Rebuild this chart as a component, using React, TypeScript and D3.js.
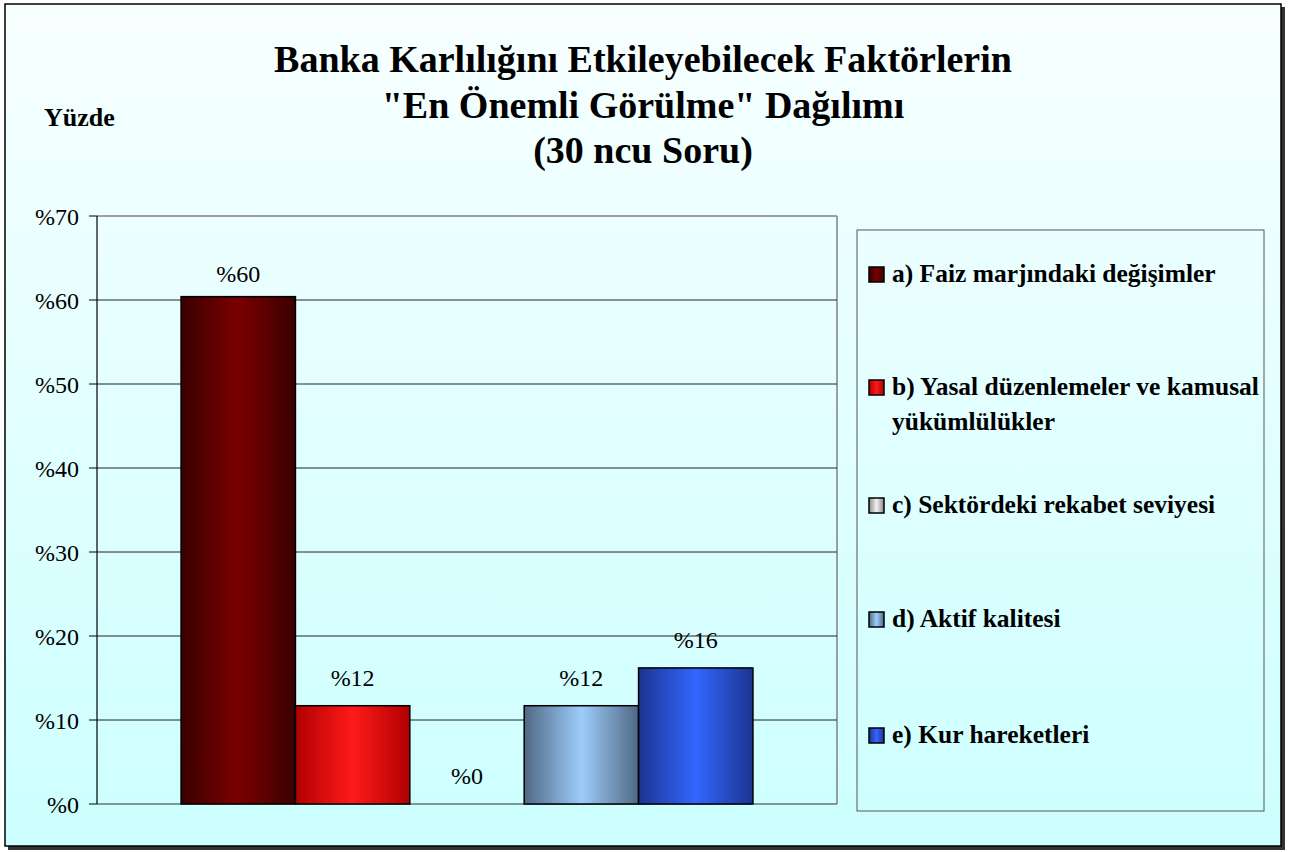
import React from "react";
import * as d3 from "d3";

const seriesKeys = ["a", "b", "c", "d", "e"];
const seriesNames = [
  "a) Faiz marjındaki değişimler",
  "b) Yasal düzenlemeler ve kamusal yükümlülükler",
  "c) Sektördeki rekabet seviyesi",
  "d) Aktif kalitesi",
  "e) Kur hareketleri",
];
const seriesValues = [60.4, 11.7, 0, 11.7, 16.2];
const valueLabels = ["%60", "%12", "%0", "%12", "%16"];
const yTicks = [0, 10, 20, 30, 40, 50, 60, 70];
const titleLines = [
  "Banka Karlılığını Etkileyebilecek Faktörlerin",
  "\"En Önemli Görülme\" Dağılımı",
  "(30 ncu Soru)",
];
const legendLines = [
  ["a) Faiz marjındaki değişimler"],
  ["b) Yasal düzenlemeler ve kamusal", "yükümlülükler"],
  ["c) Sektördeki rekabet seviyesi"],
  ["d) Aktif kalitesi"],
  ["e) Kur hareketleri"],
];
const barColors = [
  { edge: "#3a0000", mid: "#7a0000" },
  { edge: "#b00000", mid: "#ff1a1a" },
  { edge: "#8a8a8a", mid: "#f2f2f2" },
  { edge: "#4f6884", mid: "#9dcdfa" },
  { edge: "#1c3490", mid: "#3366ff" },
];

export default function App() {
  const W = 1290, H = 852;
  const plot = { left: 97, right: 837, top: 216, bottom: 804 };
  const x = d3.scaleBand<string>().domain(seriesKeys).range([plot.left, plot.right]).paddingInner(0).paddingOuter(0.735);
  const y = d3.scaleLinear().domain([0, 70]).range([plot.bottom, plot.top]);
  const font = "'Liberation Serif', 'Times New Roman', serif";
  const legendY = [282, 395, 513, 627, 743];

  return (
    <svg width={W} height={H} style={{ position: "absolute", left: 0, top: 0 }} fontFamily={font}>
      <defs>
        <linearGradient id="bg" x1="0" y1="0" x2="0" y2="1">
          <stop offset="0" stopColor="#f8ffff" />
          <stop offset="1" stopColor="#ccffff" />
        </linearGradient>
        {barColors.map((c, i) => (
          <linearGradient key={i} id={`g${i}`} x1="0" y1="0" x2="1" y2="0">
            <stop offset="0" stopColor={c.edge} />
            <stop offset="0.5" stopColor={c.mid} />
            <stop offset="1" stopColor={c.edge} />
          </linearGradient>
        ))}
      </defs>
      {/* frame shadow */}
      <rect x={8} y={7} width={1277} height={843} fill="#333" />
      <rect x={5} y={4} width={1276} height={842} fill="url(#bg)" stroke="#000" strokeWidth={1.5} />

      {titleLines.map((t, i) => (
        <text key={i} x={643} y={72 + i * 45.5} textAnchor="middle" fontSize={38} fontWeight="bold" fill="#000">
          {t}
        </text>
      ))}
      <text x={44} y={126} fontSize={26} fontWeight="bold" fill="#000">Yüzde</text>

      {/* plot border */}
      <line x1={plot.left} x2={plot.right} y1={plot.top} y2={plot.top} stroke="#808080" strokeWidth={1.5} />
      <line x1={plot.right} x2={plot.right} y1={plot.top} y2={plot.bottom} stroke="#808080" strokeWidth={1.5} />
      {/* gridlines */}
      {yTicks.filter((t) => t > 0 && t < 70).map((t) => (
        <line key={t} x1={plot.left} x2={plot.right} y1={y(t)} y2={y(t)} stroke="#222" strokeWidth={1} />
      ))}
      {/* axis */}
      <line x1={plot.left} x2={plot.left} y1={plot.top} y2={plot.bottom} stroke="#000" strokeWidth={1.2} />
      <line x1={plot.left} x2={plot.right} y1={plot.bottom} y2={plot.bottom} stroke="#333" strokeWidth={1.2} />
      {yTicks.map((t) => (
        <g key={t}>
          <line x1={plot.left - 8} x2={plot.left} y1={y(t)} y2={y(t)} stroke="#000" strokeWidth={1} />
          <text x={79} y={y(t) + 8.5} textAnchor="end" fontSize={24} fill="#000">{`%${t}`}</text>
        </g>
      ))}

      {/* bars */}
      {seriesKeys.map((k, i) => {
        const v = seriesValues[i];
        const bx = x(k)!;
        const bw = x.bandwidth();
        return (
          <g key={k}>
            {v > 0 && (
              <rect x={bx} y={y(v)} width={bw} height={y(0) - y(v)} fill={`url(#g${i})`} stroke="#000" strokeWidth={1.5} />
            )}
            <text x={bx + bw / 2} y={y(v) - (v > 30 ? 15 : 20)} textAnchor="middle" fontSize={24} fill="#000">
              {valueLabels[i]}
            </text>
          </g>
        );
      })}

      {/* legend */}
      <rect x={857} y={230} width={407} height={581} fill="none" stroke="#555" strokeWidth={1} />
      {seriesKeys.map((k, i) => (
        <g key={k}>
          <rect x={869} y={legendY[i] - 15} width={15} height={15} fill={`url(#g${i})`} stroke="#000" strokeWidth={1.5} />
          {legendLines[i].map((ln, j) => (
            <text key={j} x={892} y={legendY[i] + j * 35} fontSize={25.5} fontWeight="bold" fill="#000">
              {ln}
            </text>
          ))}
        </g>
      ))}
    </svg>
  );
}
